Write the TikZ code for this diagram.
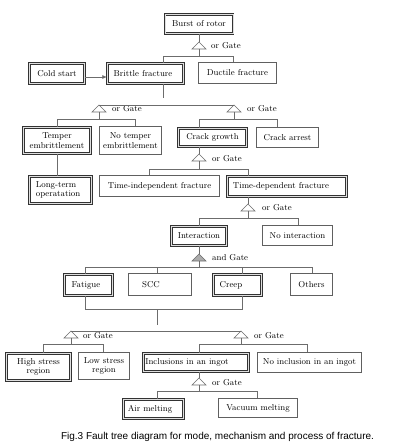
\documentclass[tikz,border=0pt]{standalone}
\usepackage{fontspec}
\usetikzlibrary{arrows.meta}
\newfontfamily\capfont{Liberation Sans}
\newcommand\fsz{\fontsize{8.6}{9.4}\selectfont}
\newcommand\ftgate[4]{%
  \coordinate (#1) at (#2,#3);
  \draw[gt,fill=#4] (#1) -- ++(-7,7) -- ++(14,0) -- cycle;
  \coordinate (#1b) at (#2,#3+7);}
\begin{document}
\begin{tikzpicture}[x=1pt,y=-1pt,
  ln/.style={draw=gray!85!black, line width=0.6pt},
  bx/.style={draw=gray!75!black, line width=0.7pt, inner sep=0pt, align=center, font=\fsz},
  dbx/.style={draw=gray!40!black, line width=1.1pt, double=gray!25, double distance=0.45pt, inner sep=0pt, align=center, font=\fsz},
  gt/.style={draw=gray!85!black, line width=0.6pt},
  gl/.style={font=\fsz, anchor=west, inner sep=0pt}]
\fill[white] (0,0) rectangle (400,446);
\useasboundingbox (0,0) rectangle (400,446);

% boxes
\node[dbx, minimum width=68.3, minimum height=19.3] (burst) at (199,24) {Burst of rotor};
\node[dbx, minimum width=55.3, minimum height=20.3] (cold) at (57,73.5) {Cold start};
\node[dbx, minimum width=76.3, minimum height=20.3] (brittle) at (145.5,73.5) {\hbox{Brittle fracture\kern5pt}};
\node[bx, minimum width=78.3, minimum height=21.3] (ductile) at (237.5,73) {Ductile fracture};
\node[dbx, minimum width=67.3, minimum height=26.3] (temper) at (57,140.5) {Temper\\embrittlement};
\node[bx, minimum width=62.3, minimum height=28.3] (notemper) at (130.5,140.5) {No temper\\embrittlement};
\node[dbx, minimum width=68.3, minimum height=18.3] (crackgrowth) at (212.5,137.5) {Crack growth};
\node[bx, minimum width=62.3, minimum height=20.3] (crackarrest) at (287.5,137.5) {Crack arrest};
\node[dbx, minimum height=27.3, inner xsep=6.5pt, text width=49.3pt, align=left] (longterm) at (60.5,190) {Long-term\\operatation};
\node[bx, minimum width=120.3, minimum height=21.3] (timeind) at (159.5,186) {Time-independent fracture};
\node[dbx, minimum width=119.3, minimum height=20.3] (timedep) at (287,186.5) {\hbox{Time-dependent fracture\kern12pt}};
\node[dbx, minimum width=55.3, minimum height=19.3] (interaction) at (199,236) {Interaction};
\node[bx, minimum width=70.3, minimum height=20.3] (nointeraction) at (297.5,235.5) {No interaction};
\node[dbx, minimum width=48.3, minimum height=21.3] (fatigue) at (88.5,285) {\hbox{Fatigue\kern5pt}};
\node[bx, minimum width=63.3, minimum height=22.3] (scc) at (160,284.5) {\hbox{SCC\kern18pt}};
\node[dbx, minimum width=48.3, minimum height=21.3] (creep) at (237.5,285) {\hbox{Creep\kern13pt}};
\node[bx, minimum width=42.3, minimum height=22.3] (others) at (311.5,284.5) {Others};
\node[dbx, minimum width=64.3, minimum height=27.3] (high) at (38.5,367) {High stress\\region};
\node[bx, minimum width=51.3, minimum height=27.3] (low) at (104,366) {Low stress\\region};
\node[dbx, minimum width=105.3, minimum height=18.3] (inclusions) at (196,362.5) {\hbox{Inclusions in an ingot\kern18pt}};
\node[bx, minimum width=104.3, minimum height=20.3] (noinclusion) at (309.5,362.5) {No inclusion in an ingot};
\node[dbx, minimum width=60.3, minimum height=19.3] (air) at (153.5,409) {\hbox{Air melting\kern7pt}};
\node[bx, minimum width=79.3, minimum height=19.3] (vacuum) at (258,408) {Vacuum melting};

% gates
\ftgate{g1}{199}{42}{white}
\ftgate{g2}{99}{105}{white}
\ftgate{g3}{234}{105}{white}
\ftgate{g4}{199}{154}{white}
\ftgate{g5}{248}{204}{white}
\ftgate{g6}{199}{254}{gray!65}
\ftgate{g7}{71}{331}{white}
\ftgate{g8}{241}{331}{white}
\ftgate{g9}{199}{378}{white}

\node[gl] (l1) at (211,45.5) {or Gate};
\node[gl] (l2) at (112,108.5) {or Gate};
\node[gl] (l3) at (247,108.5) {or Gate};
\node[gl] (l4) at (212,158.5) {or Gate};
\node[gl] (l5) at (262,207.5) {or Gate};
\node[gl] (l6) at (212,257.5) {and Gate};
\node[gl] (l7) at (83,335.5) {or Gate};
\node[gl] (l8) at (254,335.5) {or Gate};
\node[gl] (l9) at (212,382.5) {or Gate};

% connectors
\draw[ln] (burst.south) -- (g1);
\draw[ln] (g1b) -- (199,56);
\draw[ln] (brittle.north -| 163,0) |- (233,56) -- (ductile.north -| 233,0);
\draw[ln, -{Latex[length=4.5pt,width=4pt]}] (cold.east |- 0,77) -- (brittle.west |- 0,77);

\draw[ln] (brittle.south -| 163,0) -- (163,98);
\draw[ln] (g2) |- (g3);
\draw[ln] (g2b) -- (99,119);
\draw[ln] (temper.north) |- (135,119) -- (notemper.north -| 135,0);
\draw[ln] (g3b) -- (234,119);
\draw[ln] (crackgrowth.north -| 199,0) |- (277,119) -- (crackarrest.north -| 277,0);

\draw[ln] (temper.south) -- (longterm.north -| temper.south);

\draw[ln] (crackgrowth.south -| 199,0) -- (g4);
\draw[ln] (g4b) -- (199,169);
\draw[ln] (timeind.north -| 149,0) |- (248,169) -- (timedep.north -| 248,0);

\draw[ln] (timedep.south -| 248,0) -- (g5);
\draw[ln] (g5b) -- (248,218);
\draw[ln] (interaction.north -| 199,0) |- (298,218) -- (nointeraction.north -| 298,0);

\draw[ln] (interaction.south) -- (g6);
\draw[ln] (g6b) -- (199,267);
\draw[ln] (fatigue.north -| 85,0) |- (312,267) -- (others.north -| 312,0);
\draw[ln] (scc.north -| 157,0) -- (157,267);
\draw[ln] (creep.north -| 242,0) -- (242,267);

\draw[ln] (fatigue.south -| 85,0) |- (242,309) -- (creep.south -| 242,0);
\draw[ln] (157,309) -- (157,325);
\draw[ln] (g7) |- (g8);

\draw[ln] (g7b) -- (71,344);
\draw[ln] (high.north -| 43,0) |- (103,344) -- (low.north -| 103,0);
\draw[ln] (g8b) -- (241,344);
\draw[ln] (inclusions.north -| 199,0) |- (307,344) -- (noinclusion.north -| 307,0);

\draw[ln] (inclusions.south -| 199,0) -- (g9);
\draw[ln] (g9b) -- (199,391);
\draw[ln] (air.north -| 157,0) |- (257,391) -- (vacuum.north -| 257,0);

\node[font=\capfont\fontsize{10}{12}\selectfont, inner sep=0pt] (cap) at (217.5,437) {Fig.3 Fault tree diagram for mode, mechanism and process of fracture.};
\end{tikzpicture}
\end{document}
